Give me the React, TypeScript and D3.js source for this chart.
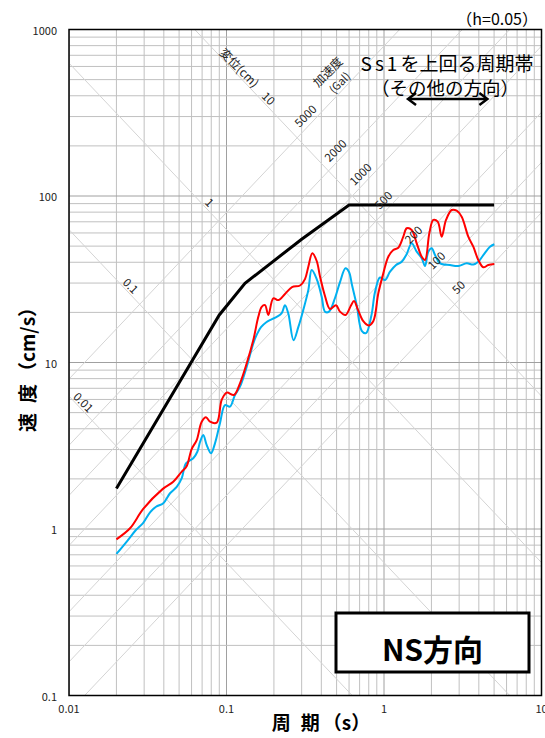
import React from 'react';
import * as d3 from 'd3';

// ---- data ----
const xTicks = [0.01, 0.1, 1, 10];
const yTicks = [0.1, 1, 10, 100, 1000];
const dispLines = [0.01, 0.1, 1, 10]; // cm
const accLines = [50, 100, 200, 500, 1000, 2000, 5000]; // Gal
const dispLabelPeriod = [0.01245, 0.0248, 0.0785, 0.1862];
const accLabelPeriod = [2.95, 2.138, 1.528, 0.9855, 0.704, 0.489, 0.315];

const ss1Period = [0.02, 0.09, 0.131, 0.3, 0.6, 5.0];
const ss1Vel = [1.75, 19.3, 29.9, 55, 88.3, 88.3];

const redPeriod = [0.020, 0.0244, 0.0296, 0.0391, 0.0459, 0.0520, 0.0557, 0.0601, 0.0647, 0.0696, 0.0741, 0.0786, 0.0867, 0.0932, 0.1003, 0.1116, 0.1218, 0.1344, 0.148, 0.1592, 0.1673, 0.1756, 0.1843, 0.1982, 0.2133, 0.2351, 0.2606, 0.293, 0.315, 0.3307, 0.3506, 0.3739, 0.3925, 0.422, 0.454, 0.4956, 0.5255, 0.5695, 0.617, 0.645, 0.684, 0.739, 0.797, 0.855, 0.920, 0.990, 1.065, 1.146, 1.233, 1.326, 1.394, 1.499, 1.613, 1.736, 1.822, 1.940, 2.056, 2.193, 2.324, 2.476, 2.691, 2.894, 3.113, 3.429, 3.690, 3.969, 4.271, 4.594, 5.015];
const redVel = [0.867, 1.01, 1.32, 1.73, 1.92, 2.21, 2.37, 3.02, 3.42, 4.41, 4.69, 4.41, 4.35, 5.96, 6.59, 6.38, 7.50, 9.89, 13.65, 18.8, 21.6, 22.1, 19.3, 24.3, 23.7, 25.8, 28.4, 29.0, 31.7, 37.6, 45.3, 40.7, 32.8, 25.1, 20.96, 22.1, 20.2, 19.3, 22.0, 23.4, 20.7, 17.7, 16.7, 17.7, 26.0, 34.3, 43.2, 47.4, 48.9, 57.0, 64.0, 62.5, 52.0, 43.2, 41.3, 59.7, 71.8, 70.1, 57.0, 71.8, 82.4, 81.6, 75.1, 57.0, 49.6, 41.3, 37.3, 38.5, 39.0];

const bluePeriod = [0.020, 0.0234, 0.0266, 0.0296, 0.0327, 0.0357, 0.0397, 0.0438, 0.0483, 0.0520, 0.0553, 0.0615, 0.0653, 0.0679, 0.0712, 0.0748, 0.0797, 0.0845, 0.0909, 0.0978, 0.1052, 0.1132, 0.1218, 0.1344, 0.148, 0.1562, 0.1656, 0.1781, 0.1917, 0.2083, 0.2242, 0.2351, 0.2469, 0.2664, 0.2857, 0.3073, 0.3307, 0.3475, 0.3739, 0.4022, 0.422, 0.4476, 0.4886, 0.5255, 0.5695, 0.5995, 0.6264, 0.671, 0.722, 0.769, 0.833, 0.877, 0.943, 1.015, 1.092, 1.192, 1.296, 1.394, 1.499, 1.613, 1.736, 1.822, 1.911, 2.009, 2.108, 2.268, 2.624, 2.962, 3.350, 3.690, 3.969, 4.271, 4.71, 5.015];
const blueVel = [0.708, 0.847, 0.986, 1.09, 1.26, 1.36, 1.43, 1.64, 1.79, 2.02, 2.48, 2.66, 2.91, 3.33, 3.67, 3.20, 2.85, 3.27, 4.31, 5.55, 5.43, 6.38, 7.16, 9.44, 13.04, 14.8, 16.3, 17.4, 18.1, 18.8, 19.8, 22.1, 19.7, 13.6, 16.3, 20.7, 27.2, 35.9, 31.7, 24.8, 20.2, 20.2, 24.4, 30.4, 36.8, 35.0, 29.2, 22.1, 15.5, 15.0, 19.3, 26.5, 32.4, 31.3, 35.1, 38.5, 40.3, 44.9, 52.0, 46.3, 42.3, 38.0, 46.3, 48.5, 44.2, 39.4, 38.5, 38.0, 39.4, 38.8, 40.3, 44.2, 49.6, 51.3];

const bandPeriod = [1.4, 4.6];

const FONT = "'Noto Sans CJK JP', 'Noto Sans', sans-serif";

export default function App() {
  const W = 545, H = 738;
  const L = 69, R = 541.5, T = 29.5, B = 695.5;
  const x = d3.scaleLog().domain([0.01, 10]).range([L, R]);
  const y = d3.scaleLog().domain([0.1, 1000]).range([B, T]);

  const vGrid: { v: number; major: boolean }[] = [];
  for (const n of [-2, -1, 0]) for (let k = 1; k <= 9; k++) vGrid.push({ v: k * Math.pow(10, n), major: k === 1 });
  vGrid.push({ v: 10, major: true });
  const hGrid: { v: number; major: boolean }[] = [];
  for (const n of [-1, 0, 1, 2]) for (let k = 1; k <= 9; k++) hGrid.push({ v: k * Math.pow(10, n), major: k === 1 });
  hGrid.push({ v: 1000, major: true });

  const line = d3.line<[number, number]>().x(d => x(d[0])).y(d => y(d[1])).curve(d3.curveCatmullRom.alpha(0.5));
  const straight = d3.line<[number, number]>().x(d => x(d[0])).y(d => y(d[1]));
  const twoPi = 2 * Math.PI;

  const dispPath = (D: number) => straight([[0.005, twoPi * D / 0.005], [20, twoPi * D / 20]]);
  const accPath = (A: number) => straight([[0.005, A * 0.005 / twoPi], [20, A * 20 / twoPi]]);

  const red = redPeriod.map((p, i) => [p, redVel[i]] as [number, number]);
  const blue = bluePeriod.map((p, i) => [p, blueVel[i]] as [number, number]);
  const ss1 = ss1Period.map((p, i) => [p, ss1Vel[i]] as [number, number]);

  const arrowY = 99;
  const ax0 = x(bandPeriod[0]), ax1 = x(bandPeriod[1]);

  return (
    <svg width={W} height={H} style={{ position: 'absolute', left: 0, top: 0, background: '#fff' }} fontFamily={FONT}>
      <defs>
        <clipPath id="plot"><rect x={L} y={T} width={R - L} height={B - T} /></clipPath>
      </defs>
      <rect x={0} y={0} width={W} height={H} fill="#fff" />
      <g clipPath="url(#plot)">
        {vGrid.map((g, i) => (
          <line key={'v' + i} x1={x(g.v)} x2={x(g.v)} y1={T} y2={B} stroke={g.major ? '#a0a0a0' : '#c0c0c0'} strokeWidth={1} />
        ))}
        {hGrid.map((g, i) => (
          <line key={'h' + i} y1={y(g.v)} y2={y(g.v)} x1={L} x2={R} stroke={g.major ? '#a0a0a0' : '#c0c0c0'} strokeWidth={1} />
        ))}
        {dispLines.map(D => (
          <path key={'d' + D} d={dispPath(D) || ''} stroke="#d4d4d4" strokeWidth={1} fill="none" />
        ))}
        {accLines.map(A => (
          <path key={'a' + A} d={accPath(A) || ''} stroke="#d4d4d4" strokeWidth={1} fill="none" />
        ))}
        <path d={line(blue) || ''} fill="none" stroke="#00b0f0" strokeWidth={2} />
        <path d={line(red) || ''} fill="none" stroke="#ff0000" strokeWidth={2} />
        <path d={straight(ss1) || ''} fill="none" stroke="#000" strokeWidth={3} />
      </g>
      <rect x={L} y={T} width={R - L} height={B - T} fill="none" stroke="#000" strokeWidth={1.5} />

      {/* diagonal labels */}
      {dispLines.map((D, i) => {
        const p = dispLabelPeriod[i];
        const lx = x(p), ly = y(twoPi * D / p) - 10;
        return (
          <text key={'dl' + D} x={lx} y={ly} fontSize={11.5} fill="#222" textAnchor="middle" dominantBaseline="central"
            transform={`rotate(45 ${lx} ${ly})`}>{String(D)}</text>
        );
      })}
      {accLines.map((A, i) => {
        const p = accLabelPeriod[i];
        const lx = x(p), ly = y(A * p / twoPi) - 14;
        return (
          <text key={'al' + A} x={lx} y={ly} fontSize={11.5} fill="#222" textAnchor="middle" dominantBaseline="central"
            transform={`rotate(-45 ${lx} ${ly})`}>{String(A)}</text>
        );
      })}
      <text x={240} y={67} fontSize={12} fill="#222" textAnchor="middle" dominantBaseline="central" transform="rotate(45 240 67)">変位(cm)</text>
      <text x={327} y={71} fontSize={12} fill="#222" textAnchor="middle" dominantBaseline="central" transform="rotate(-45 327 71)">加速度</text>
      <text x={339} y={82} fontSize={11} fill="#222" textAnchor="middle" dominantBaseline="central" transform="rotate(-45 339 82)">(Gal)</text>

      {/* tick labels */}
      {xTicks.map(t => (
        <text key={'xt' + t} x={x(t)} y={713} fontSize={11} textAnchor="middle" fill="#222">{String(t)}</text>
      ))}
      {yTicks.map(t => (
        <text key={'yt' + t} x={57} y={y(t)} fontSize={11} textAnchor="end" dominantBaseline="central" fill="#222">{String(t)}</text>
      ))}

      {/* axis titles */}
      <text x={321} y={730} fontSize={19} fontWeight="bold" textAnchor="middle" fill="#000">周<tspan dx={10}>期</tspan><tspan dx={3}>（s）</tspan></text>
      <text x={26} y={365} fontSize={19} fontWeight="bold" textAnchor="middle" dominantBaseline="central" fill="#000"
        transform="rotate(-90 26 365)">速<tspan dx={10}>度</tspan><tspan dx={3}>（cm/s）</tspan></text>

      {/* annotations */}
      <text x={538} y={25} fontSize={16} textAnchor="end" fill="#000">（h=0.05）</text>
      <text x={447} y={71} fontSize={19} textAnchor="middle" fill="#000"><tspan letterSpacing={3}>Ss1</tspan>を上回る周期帯</text>
      <text x={445} y={95} fontSize={18.5} textAnchor="middle" fill="#000">（その他の方向）</text>
      <line x1={ax0 + 2} x2={ax1 - 2} y1={arrowY} y2={arrowY} stroke="#000" strokeWidth={2.5} />
      <path d={`M${ax0 + 9},${arrowY - 6} L${ax0 + 1},${arrowY} L${ax0 + 9},${arrowY + 6}`} fill="none" stroke="#000" strokeWidth={2.5} />
      <path d={`M${ax1 - 9},${arrowY - 6} L${ax1 - 1},${arrowY} L${ax1 - 9},${arrowY + 6}`} fill="none" stroke="#000" strokeWidth={2.5} />

      {/* NS box */}
      <rect x={336} y={613} width={193} height={59} fill="#fff" stroke="#000" strokeWidth={3} />
      <text x={432.5} y={653} fontSize={30} fontWeight="bold" textAnchor="middle" dominantBaseline="middle" fill="#000">NS方向</text>
    </svg>
  );
}
